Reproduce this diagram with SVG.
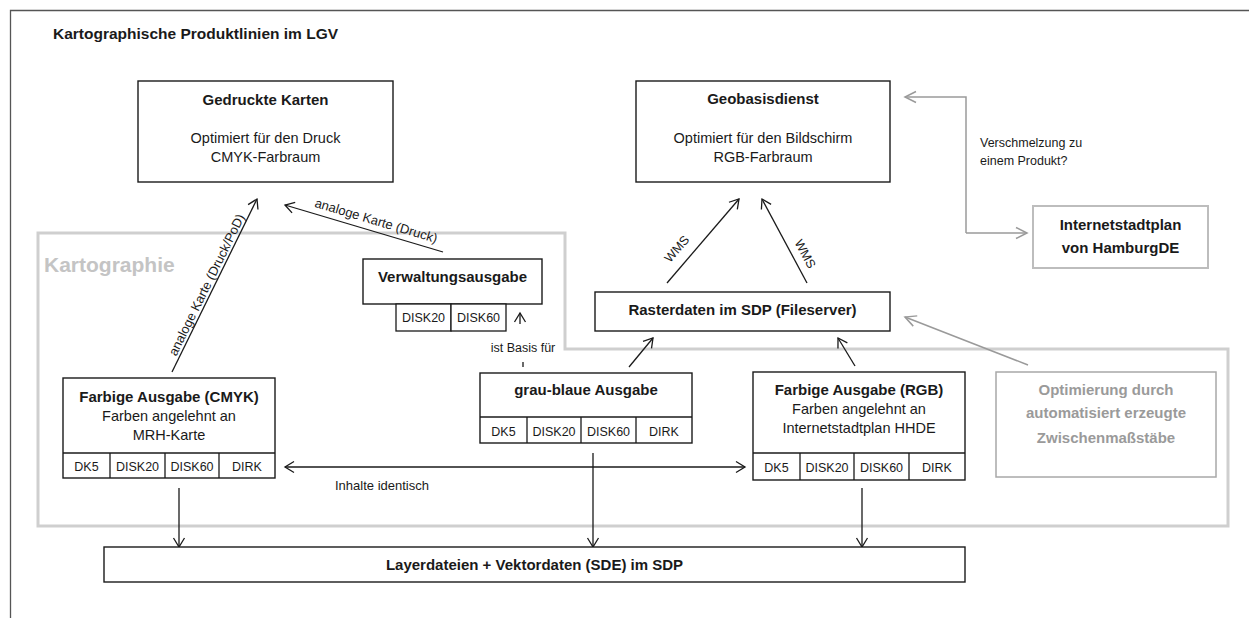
<svg xmlns="http://www.w3.org/2000/svg" width="1249" height="618" viewBox="0 0 1249 618">
<style>
text{font-family:"Liberation Sans",Arial,sans-serif;fill:#1a1a1a}
.b{font-weight:bold;font-size:15px}
.r{font-size:14.5px}
.c{font-size:12.5px}
.s{font-size:13px}
.box{fill:#fff;stroke:#1a1a1a;stroke-width:1.4}
.cell{fill:#fff;stroke:#1a1a1a;stroke-width:1.3}
.gbox{fill:#fff;stroke:#bdbdbd;stroke-width:2}
.ln{fill:none;stroke:#1a1a1a;stroke-width:1.3}
.gl{fill:none;stroke:#9a9a9a;stroke-width:1.5}
.mid{text-anchor:middle}
</style>
<defs>
<marker id="ah" markerUnits="userSpaceOnUse" markerWidth="14" markerHeight="14" refX="11" refY="7" orient="auto-start-reverse">
<path d="M2,1.5 L11,7 L2,12.5" fill="none" stroke="#1a1a1a" stroke-width="1.3"/>
</marker>
<marker id="ahg" markerUnits="userSpaceOnUse" markerWidth="16" markerHeight="16" refX="13" refY="8" orient="auto-start-reverse">
<path d="M2,2.5 L13,8 L2,13.5" fill="none" stroke="#9a9a9a" stroke-width="1.5"/>
</marker>
</defs>
<rect width="1249" height="618" fill="#fff"/>
<path d="M10.5,618 V10.5 H1249" fill="none" stroke="#555" stroke-width="1.3"/>
<text x="53" y="38.5" class="b" style="font-size:15.5px">Kartographische Produktlinien im LGV</text>

<g id="kartographie">
<path d="M38,233 H565 V349 H1228 V526 H38 Z" fill="none" stroke="#cfcfcf" stroke-width="3"/>
<text x="44" y="272" style="font-weight:bold;font-size:21px;fill:#c4c4c4">Kartographie</text>
</g>

<g id="connectors">
<path class="ln" d="M172,372 L257,199" marker-end="url(#ah)"/>
<path class="ln" d="M443,252 L285,205" marker-end="url(#ah)"/>
<path class="ln" d="M667,283 L739,199" marker-end="url(#ah)"/>
<path class="ln" d="M807,283 L762,199" marker-end="url(#ah)"/>
<path class="ln" d="M629,367 L653,338" marker-end="url(#ah)"/>
<path class="ln" d="M855,366 L838,338" marker-end="url(#ah)"/>
<path class="ln" d="M520,324 L520,313" marker-end="url(#ah)"/>
<path class="ln" d="M523,362 L523,367"/>
<path class="ln" d="M285,467 L745,467" marker-start="url(#ah)" marker-end="url(#ah)"/>
<path class="ln" d="M179,488 L179,547" marker-end="url(#ah)"/>
<path class="ln" d="M593,453 L593,547" marker-end="url(#ah)"/>
<path class="ln" d="M862,488 L862,547" marker-end="url(#ah)"/>
<path class="gl" d="M966,233 V97 H905" marker-end="url(#ahg)"/>
<path class="gl" d="M966,233 H1027" marker-end="url(#ahg)"/>
<path class="gl" d="M1028,365 L905,317" marker-end="url(#ahg)"/>
<text class="s mid" transform="translate(207,285) rotate(-63.8)" dy="4">analoge Karte (Druck/PoD)</text>
<text class="s mid" transform="translate(376,221) rotate(16.6)" dy="4">analoge Karte (Druck)</text>
<text class="c mid" transform="translate(677,249) rotate(-49)" dy="4">WMS</text>
<text class="c mid" transform="translate(805,254) rotate(61.5)" dy="4">WMS</text>
<text class="c mid" x="523" y="351.5">ist Basis für</text>
<text class="s" x="335" y="489.5">Inhalte identisch</text>
<text class="c" x="980" y="146.5">Verschmelzung zu</text>
<text class="c" x="980" y="164.5">einem Produkt?</text>
</g>

<g id="gedruckte-karten">
<rect class="box" x="138" y="81" width="255" height="101"/>
<text class="b mid" x="265.5" y="105">Gedruckte Karten</text>
<text class="r mid" x="265.5" y="143">Optimiert für den Druck</text>
<text class="r mid" x="265.5" y="162">CMYK-Farbraum</text>
</g>

<g id="geobasisdienst">
<rect class="box" x="636" y="81" width="254" height="101"/>
<text class="b mid" x="763" y="104">Geobasisdienst</text>
<text class="r mid" x="763" y="143">Optimiert für den Bildschirm</text>
<text class="r mid" x="763" y="162">RGB-Farbraum</text>
</g>

<g id="internetstadtplan">
<rect class="gbox" x="1033" y="206" width="175" height="62"/>
<text class="b mid" x="1120.5" y="230">Internetstadtplan</text>
<text class="b mid" x="1120.5" y="253">von HamburgDE</text>
</g>

<g id="verwaltungsausgabe">
<rect class="box" x="363" y="259" width="179" height="45"/>
<text class="b mid" x="452.5" y="282">Verwaltungsausgabe</text>
<rect class="cell" x="396" y="304" width="55" height="27"/>
<rect class="cell" x="451" y="304" width="55" height="27"/>
<text class="c mid" x="423.5" y="322">DISK20</text>
<text class="c mid" x="478.5" y="322">DISK60</text>
</g>

<g id="rasterdaten">
<rect class="box" x="595" y="292" width="295" height="39"/>
<text class="b mid" x="742.5" y="315">Rasterdaten im SDP (Fileserver)</text>
</g>

<g id="optimierung">
<rect class="gbox" x="996" y="372" width="220" height="105" style="stroke:#a8a8a8;stroke-width:1.5"/>
<text class="b mid" x="1106" y="395" style="fill:#9a9a9a">Optimierung durch</text>
<text class="b mid" x="1106" y="418" style="fill:#9a9a9a">automatisiert erzeugte</text>
<text class="b mid" x="1106" y="443" style="fill:#9a9a9a">Zwischenmaßstäbe</text>
</g>

<g id="farbige-cmyk">
<rect class="box" x="63" y="378" width="212" height="100"/>
<line class="ln" x1="63" y1="453" x2="275" y2="453"/>
<line class="ln" x1="110" y1="453" x2="110" y2="478"/>
<line class="ln" x1="165" y1="453" x2="165" y2="478"/>
<line class="ln" x1="219" y1="453" x2="219" y2="478"/>
<text class="b mid" x="169" y="402">Farbige Ausgabe (CMYK)</text>
<text class="r mid" x="169" y="421">Farben angelehnt an</text>
<text class="r mid" x="169" y="440">MRH-Karte</text>
<text class="c mid" x="86.5" y="471">DK5</text>
<text class="c mid" x="137.5" y="471">DISK20</text>
<text class="c mid" x="192" y="471">DISK60</text>
<text class="c mid" x="247" y="471">DIRK</text>
</g>

<g id="grau-blaue">
<rect class="box" x="480" y="373" width="212" height="70"/>
<line class="ln" x1="480" y1="417" x2="692" y2="417"/>
<line class="ln" x1="527" y1="417" x2="527" y2="443"/>
<line class="ln" x1="581" y1="417" x2="581" y2="443"/>
<line class="ln" x1="636" y1="417" x2="636" y2="443"/>
<text class="b mid" x="586" y="395">grau-blaue Ausgabe</text>
<text class="c mid" x="503.5" y="436">DK5</text>
<text class="c mid" x="554" y="436">DISK20</text>
<text class="c mid" x="608.5" y="436">DISK60</text>
<text class="c mid" x="664" y="436">DIRK</text>
</g>

<g id="farbige-rgb">
<rect class="box" x="753" y="372" width="212" height="108"/>
<line class="ln" x1="753" y1="453" x2="965" y2="453"/>
<line class="ln" x1="800" y1="453" x2="800" y2="480"/>
<line class="ln" x1="854" y1="453" x2="854" y2="480"/>
<line class="ln" x1="909" y1="453" x2="909" y2="480"/>
<text class="b mid" x="859" y="395">Farbige Ausgabe (RGB)</text>
<text class="r mid" x="859" y="414">Farben angelehnt an</text>
<text class="r mid" x="859" y="433">Internetstadtplan HHDE</text>
<text class="c mid" x="776.5" y="472">DK5</text>
<text class="c mid" x="827" y="472">DISK20</text>
<text class="c mid" x="881.5" y="472">DISK60</text>
<text class="c mid" x="937" y="472">DIRK</text>
</g>

<g id="layerdateien">
<rect class="box" x="104" y="547" width="861" height="35"/>
<text class="b mid" x="534.5" y="570">Layerdateien + Vektordaten (SDE) im SDP</text>
</g>
</svg>
